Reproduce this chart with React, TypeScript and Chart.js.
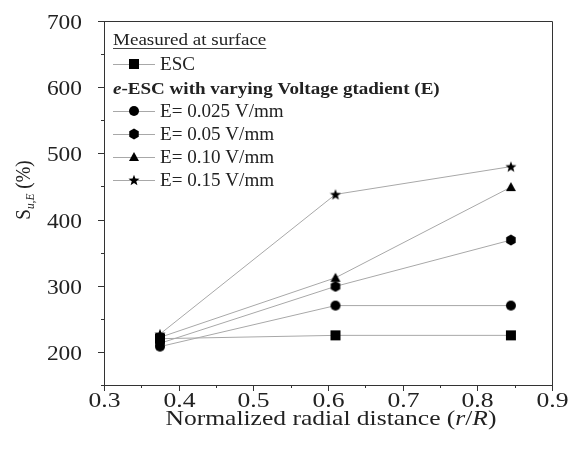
import React, { useEffect, useRef } from "react";
import { Chart, registerables } from "chart.js";

Chart.register(...registerables);

const radialDistance = [0.375, 0.61, 0.845];
const escValues = [220, 225, 225];
const e025Values = [208, 270, 270];
const e005Values = [213, 299, 369];
const e010Values = [222, 312, 449];
const e015Values = [227, 438, 480];

const seriesLabels = ["ESC", "E= 0.025 V/mm", "E= 0.05 V/mm", "E= 0.10 V/mm", "E= 0.15 V/mm"];
const markerKinds = ["square", "circle", "hexagon", "triangle", "star"];

const SERIF = '"Liberation Serif", "Times New Roman", serif';
const LINE_COLOR = "#a8a8a8";
const TEXT = "#222";

function makeMarker(kind: string): HTMLCanvasElement {
  const c = document.createElement("canvas");
  const s = 12;
  c.width = s;
  c.height = s;
  const ctx = c.getContext("2d")!;
  ctx.fillStyle = "#000";
  const m = s / 2;
  ctx.beginPath();
  if (kind === "square") {
    ctx.rect(1, 1, 10, 10);
  } else if (kind === "circle") {
    ctx.arc(m, m, 5, 0, Math.PI * 2);
  } else if (kind === "hexagon") {
    for (let i = 0; i < 6; i++) {
      const a = -Math.PI / 2 + (i * Math.PI) / 3;
      const px = m + 5.5 * Math.cos(a);
      const py = m + 5.5 * Math.sin(a);
      if (i === 0) ctx.moveTo(px, py);
      else ctx.lineTo(px, py);
    }
    ctx.closePath();
  } else if (kind === "triangle") {
    ctx.moveTo(m, 1);
    ctx.lineTo(s - 1, s - 2);
    ctx.lineTo(1, s - 2);
    ctx.closePath();
  } else if (kind === "star") {
    for (let i = 0; i < 10; i++) {
      const r = i % 2 === 0 ? 5.8 : 2.4;
      const a = -Math.PI / 2 + (i * Math.PI) / 5;
      const px = m + r * Math.cos(a);
      const py = m + 0.5 + r * Math.sin(a);
      if (i === 0) ctx.moveTo(px, py);
      else ctx.lineTo(px, py);
    }
    ctx.closePath();
  }
  ctx.fill();
  return c;
}

type Part = [string, string, number?];

// draws text parts horizontally stretched by sx; align: 0 left, 0.5 center, 1 right
function drawParts(ctx: CanvasRenderingContext2D, parts: Part[], x: number, y: number, sx: number, align: number) {
  let total = 0;
  parts.forEach(([t, f]) => {
    ctx.font = f;
    total += ctx.measureText(t).width;
  });
  ctx.save();
  ctx.translate(x - total * sx * align, y);
  ctx.scale(sx, 1);
  let cx = 0;
  parts.forEach(([t, f, dy]) => {
    ctx.font = f;
    ctx.fillText(t, cx, dy || 0);
    cx += ctx.measureText(t).width;
  });
  ctx.restore();
  return total * sx;
}

export default function App() {
  const ref = useRef<HTMLCanvasElement | null>(null);

  useEffect(() => {
    document.body.style.margin = "0";
    const canvas = ref.current!;
    const markers = markerKinds.map(makeMarker);
    const allSeries = [escValues, e025Values, e005Values, e010Values, e015Values];

    const datasets = allSeries.map((vals, i) => ({
      label: seriesLabels[i],
      data: vals.map((y, j) => ({ x: radialDistance[j], y })),
      showLine: true,
      borderColor: LINE_COLOR,
      borderWidth: 1,
      pointStyle: markers[i],
      pointRadius: 6,
      backgroundColor: "#000",
    }));

    const decor = {
      id: "decor",
      afterDraw(chart: any) {
        const ctx = chart.ctx as CanvasRenderingContext2D;
        const area = chart.chartArea;
        const xs = chart.scales.x;
        const ys = chart.scales.y;
        ctx.save();
        // frame top & right
        ctx.strokeStyle = "#333";
        ctx.lineWidth = 1;
        ctx.beginPath();
        ctx.moveTo(area.left, area.top + 0.5);
        ctx.lineTo(area.right + 0.5, area.top + 0.5);
        ctx.lineTo(area.right + 0.5, area.bottom);
        ctx.stroke();
        // tick marks and labels
        ctx.fillStyle = TEXT;
        ctx.textBaseline = "alphabetic";
        ctx.beginPath();
        xs.ticks.forEach((t: any, i: number) => {
          const px = Math.round(xs.getPixelForValue(t.value)) + 0.5;
          const major = i % 2 === 0;
          ctx.moveTo(px, area.bottom);
          ctx.lineTo(px, area.bottom + (major ? 6 : 3));
          if (major) {
            drawParts(ctx, [[Number(t.value).toFixed(1), `21px ${SERIF}`]], px, 407, 1.22, 0.5);
          }
        });
        ys.ticks.forEach((t: any) => {
          const py = Math.round(ys.getPixelForValue(t.value)) + 0.5;
          const major = t.value % 100 === 0;
          ctx.moveTo(area.left, py);
          ctx.lineTo(area.left - (major ? 6 : 3), py);
          if (major) {
            drawParts(ctx, [[String(t.value), `20px ${SERIF}`]], 82, py + 7, 1.17, 1);
          }
        });
        ctx.stroke();

        // x title
        drawParts(
          ctx,
          [
            ["Normalized radial distance (", `22px ${SERIF}`],
            ["r", `italic 22px ${SERIF}`],
            ["/", `22px ${SERIF}`],
            ["R", `italic 22px ${SERIF}`],
            [")", `22px ${SERIF}`],
          ],
          (area.left + area.right) / 2 + 3,
          425,
          1.16,
          0.5
        );

        // y title (rotated)
        ctx.save();
        ctx.translate(30, 190);
        ctx.rotate(-Math.PI / 2);
        drawParts(
          ctx,
          [
            ["S", `20px ${SERIF}`, 0],
            ["u,E", `italic 12px ${SERIF}`, 4],
            [" (%)", `20px ${SERIF}`, 0],
          ],
          0,
          0,
          0.95,
          0.5
        );
        ctx.restore();

        // legend
        const lx = 113;
        const h1w = drawParts(ctx, [["Measured at surface", `17px ${SERIF}`]], lx, 45, 1.12, 0);
        ctx.strokeStyle = "#444";
        ctx.beginPath();
        ctx.moveTo(lx, 48.5);
        ctx.lineTo(lx + h1w, 48.5);
        ctx.stroke();

        const drawRow = (i: number, cy: number) => {
          ctx.strokeStyle = LINE_COLOR;
          ctx.beginPath();
          ctx.moveTo(lx, cy + 0.5);
          ctx.lineTo(lx + 42, cy + 0.5);
          ctx.stroke();
          const mk = markers[i];
          ctx.drawImage(mk, Math.round(lx + 21 - mk.width / 2), Math.round(cy - mk.height / 2));
          ctx.fillStyle = TEXT;
          drawParts(ctx, [[seriesLabels[i], `18px ${SERIF}`]], lx + 47, cy + 6, 1.06, 0);
        };
        drawRow(0, 64);

        drawParts(
          ctx,
          [
            ["e", `italic bold 17px ${SERIF}`],
            ["-ESC with varying Voltage gtadient (E)", `bold 17px ${SERIF}`],
          ],
          lx,
          94,
          1.12,
          0
        );

        drawRow(1, 111);
        drawRow(2, 134);
        drawRow(3, 157);
        drawRow(4, 180);
        ctx.restore();
      },
    };

    const chart = new Chart(canvas, {
      type: "scatter",
      data: { datasets },
      options: {
        animation: false,
        responsive: false,
        layout: { padding: { top: 21, right: 16, left: 0, bottom: 0 } },
        plugins: { legend: { display: false }, tooltip: { enabled: false } },
        scales: {
          x: {
            type: "linear",
            min: 0.3,
            max: 0.9,
            afterFit: (s: any) => {
              s.height = 72;
            },
            grid: { display: false },
            border: { display: true, color: "#333", width: 1 },
            ticks: { display: false, stepSize: 0.05, autoSkip: false },
          },
          y: {
            type: "linear",
            min: 150,
            max: 700,
            afterFit: (s: any) => {
              s.width = 104;
            },
            grid: { display: false },
            border: { display: true, color: "#333", width: 1 },
            ticks: { display: false, stepSize: 50, autoSkip: false },
          },
        },
      },
      plugins: [decor],
    });
    return () => chart.destroy();
  }, []);

  return (
    <div style={{ position: "fixed", left: 0, top: 0, width: 568, height: 457, background: "#fff" }}>
      <canvas ref={ref} width={568} height={457} />
    </div>
  );
}
